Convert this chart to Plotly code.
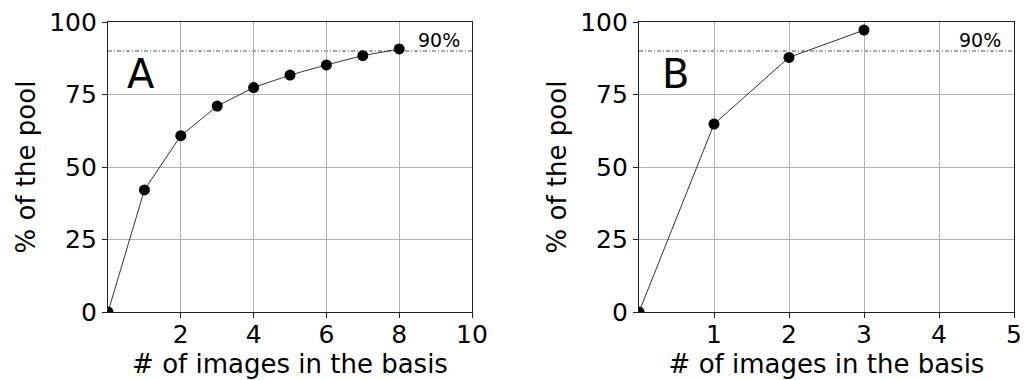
import plotly.graph_objects as go

# Data
xa = [0, 1, 2, 3, 4, 5, 6, 7, 8]
ya = [0, 42.1, 60.8, 71.0, 77.4, 81.7, 85.2, 88.4, 90.7]
xb = [0, 1, 2, 3]
yb = [0, 64.8, 87.8, 97.2]
threshold = 90
xticks_a = [2, 4, 6, 8, 10]
xticks_b = [1, 2, 3, 4, 5]
yticks = [0, 25, 50, 75, 100]
panel_labels = ["A", "B"]
xtitle = "# of images in the basis"
ytitle = "% of the pool"

FONT = "DejaVu Sans"
W, H = 1033, 380

fig = go.Figure()
line_style = dict(color="black", width=0.8)
marker_style = dict(color="black", size=11)
fig.add_trace(go.Scatter(x=xa, y=ya, mode="lines+markers", line=line_style,
                         marker=marker_style, xaxis="x", yaxis="y", showlegend=False))
fig.add_trace(go.Scatter(x=xb, y=yb, mode="lines+markers", line=line_style,
                         marker=marker_style, xaxis="x2", yaxis="y2", showlegend=False))

ydom = [1 - 312 / H, 1 - 22 / H]
xdomA = [108 / W, 472 / W]
xdomB = [639 / W, 1014 / W]

axis_common = dict(showline=True, linecolor="#222", linewidth=1.2, mirror=True,
                   showgrid=True, gridcolor="#b0b0b0", gridwidth=1,
                   ticks="outside", ticklen=5, tickcolor="#222",
                   tickfont=dict(family=FONT, size=25, color="black"),
                   zeroline=False, automargin=False)

fig.update_layout(
    width=W, height=H, margin=dict(l=0, r=0, t=0, b=0, autoexpand=False),
    plot_bgcolor="white", paper_bgcolor="white",
    font=dict(family=FONT, color="black"),
    xaxis=dict(domain=xdomA, range=[0, 10], tickvals=xticks_a, anchor="y", ticklabelstandoff=-5,
               title=dict(text=xtitle, font=dict(family=FONT, size=26), standoff=4), **axis_common),
    yaxis=dict(domain=ydom, range=[0, 100], tickvals=yticks, anchor="x",
               title=dict(text=ytitle, font=dict(family=FONT, size=26), standoff=6), **axis_common),
    xaxis2=dict(domain=xdomB, range=[0, 5], tickvals=xticks_b, anchor="y2", ticklabelstandoff=-5,
                title=dict(text=xtitle, font=dict(family=FONT, size=26), standoff=4), **axis_common),
    yaxis2=dict(domain=ydom, range=[0, 100], tickvals=yticks, anchor="x2",
                title=dict(text=ytitle, font=dict(family=FONT, size=26), standoff=6), **axis_common),
)

for xr, yr, xmax in (("x", "y", 10), ("x2", "y2", 5)):
    fig.add_shape(type="line", xref=xr, yref=yr, x0=0, x1=xmax, y0=threshold, y1=threshold,
                  line=dict(color="#222", width=0.8, dash="4px,2px,1px,2px"), layer="below")

fig.add_annotation(x=9.72, y=93.8, xref="x", yref="y", text="90%", showarrow=False,
                   xanchor="right", yanchor="middle", font=dict(family=FONT, size=19))
fig.add_annotation(x=4.85, y=93.8, xref="x2", yref="y2", text="90%", showarrow=False,
                   xanchor="right", yanchor="middle", font=dict(family=FONT, size=19))

fig.add_annotation(x=0.9, y=82, xref="x", yref="y", text=panel_labels[0], showarrow=False,
                   font=dict(family=FONT, size=40))
fig.add_annotation(x=0.48, y=82, xref="x2", yref="y2", text=panel_labels[1], showarrow=False,
                   font=dict(family=FONT, size=40))

fig.write_html("out.html", config={"displayModeBar": False},
               post_script="document.body.style.margin='0';")
